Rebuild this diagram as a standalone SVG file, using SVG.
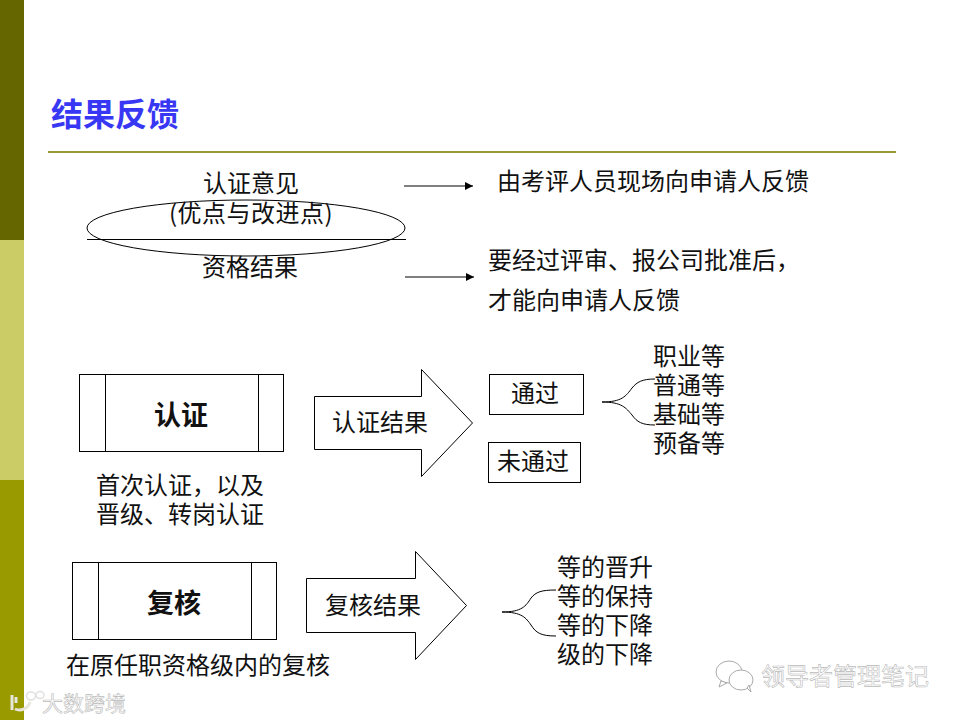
<svg xmlns="http://www.w3.org/2000/svg" width="960" height="720" viewBox="0 0 960 720">
<style>
text{font-family:"Noto Sans CJK SC","Liberation Sans",sans-serif;font-size:24px;fill:#111;text-anchor:middle}
.l{text-anchor:start}
.b{font-weight:700;font-size:27px}
.s{fill:none;stroke:#000;stroke-width:1}
.w{fill:#fff;stroke:#000;stroke-width:1}
.wm{fill:#fff;stroke:#bbb;stroke-width:.6;font-size:21px}
.ic{fill:#fff;stroke:#aaa;stroke-width:1}
.lg{fill:none;stroke:#e6e6dc;stroke-width:3}
.lt{fill:none;stroke:#e0e0e0;stroke-width:1.500}
</style>
<defs><marker id="a" markerWidth="10" markerHeight="10" refX="8" refY="4" orient="auto" markerUnits="userSpaceOnUse"><path d="M0 0L8 4L0 8Z" fill="#000"/></marker></defs>
<rect width="960" height="720" fill="#fff"/>
<g id="sidebar"><rect width="24" height="240" fill="#666600"/><rect y="240" width="24" height="240" fill="#cccc66"/><rect y="480" width="24" height="240" fill="#999900"/></g>
<g id="title"><text class="l" x="51" y="126" style="font-size:32px;font-weight:700;fill:#3838f4">结果反馈</text><rect x="48" y="151" width="848" height="2" fill="#999933"/></g>
<g id="connectors">
<line class="s" x1="404" y1="186" x2="473" y2="186" marker-end="url(#a)"/>
<line class="s" x1="405" y1="277" x2="474" y2="277" marker-end="url(#a)"/>
<line class="s" x1="87" y1="239.500" x2="406" y2="239.500"/>
<path class="s" d="M602 402C622 402 626 396 632 388C637 382 642 379 655 379M602 402C622 402 626 408 632 415C637 422 642 425 655 425"/>
<path class="s" d="M502 612C522 612 526 606 531 598C536 592 541 590 556 590M502 612C522 612 526 618 531 625C536 633 541 636 556 636"/>
</g>
<g id="opinion"><ellipse class="s" cx="246" cy="228" rx="159" ry="28" stroke-width=".8"/><text x="251" y="192">认证意见</text><text x="251" y="222" style="letter-spacing:.5px">(优点与改进点)</text></g>
<g id="result"><text x="250" y="276">资格结果</text></g>
<g id="opinion-note"><text class="l" x="497" y="190">由考评人员现场向申请人反馈</text></g>
<g id="result-note"><text class="l" x="488" y="269">要经过评审、报公司批准后，</text><text class="l" x="488" y="309">才能向申请人反馈</text></g>
<g id="cert"><rect class="w" x="79.500" y="374.500" width="204" height="77"/><line class="s" x1="105.500" y1="374" x2="105.500" y2="451"/><line class="s" x1="258.500" y1="374" x2="258.500" y2="451"/><text class="b" x="181" y="425">认证</text></g>
<g id="cert-note"><text class="l" x="96" y="494">首次认证，以及</text><text class="l" x="96" y="523">晋级、转岗认证</text></g>
<g id="cert-arrow"><path class="w" d="M314.500 396.500H421.500V369.500L472.500 423L421.500 476.500V449.500H314.500Z"/><text x="380" y="431">认证结果</text></g>
<g id="pass"><rect class="w" x="489.500" y="374.500" width="94" height="40"/><text x="535" y="402">通过</text></g>
<g id="fail"><rect class="w" x="488.500" y="442.500" width="92" height="40"/><text x="533" y="470">未通过</text></g>
<g id="grades"><text class="l" x="653" y="365">职业等</text><text class="l" x="653" y="394">普通等</text><text class="l" x="653" y="423">基础等</text><text class="l" x="653" y="452">预备等</text></g>
<g id="review"><rect class="w" x="72.500" y="562.500" width="204" height="77"/><line class="s" x1="98.500" y1="562" x2="98.500" y2="639"/><line class="s" x1="251.500" y1="562" x2="251.500" y2="639"/><text class="b" x="174" y="613">复核</text></g>
<g id="review-note"><text class="l" x="66" y="674">在原任职资格级内的复核</text></g>
<g id="review-arrow"><path class="w" d="M306.500 578.500H415.500V551.500L466.500 605.500L415.500 659.500V632.500H306.500Z"/><text x="373" y="614">复核结果</text></g>
<g id="outcomes"><text class="l" x="557" y="576">等的晋升</text><text class="l" x="557" y="605">等的保持</text><text class="l" x="557" y="634">等的下降</text><text class="l" x="557" y="663">级的下降</text></g>
<g id="watermarks">
<path class="lg" d="M12 695V710M16 697V703M30 702A11 11 0 0 1 15 709"/>
<ellipse class="lt" cx="31" cy="696" rx="4.500" ry="4"/><ellipse class="lt" cx="40" cy="695" rx="4" ry="3.500"/>
<text class="wm" x="84" y="711">大数跨境</text>
<g><ellipse class="ic" cx="729" cy="672" rx="13" ry="11"/><path class="ic" d="M721 681L719 687L727 683Z"/><ellipse class="ic" cx="741" cy="680" rx="12" ry="10"/><path class="ic" d="M747 688L751 692L749 685Z"/></g>
<text class="wm" x="845" y="685" style="font-size:24px">领导者管理笔记</text>
</g>
</svg>
